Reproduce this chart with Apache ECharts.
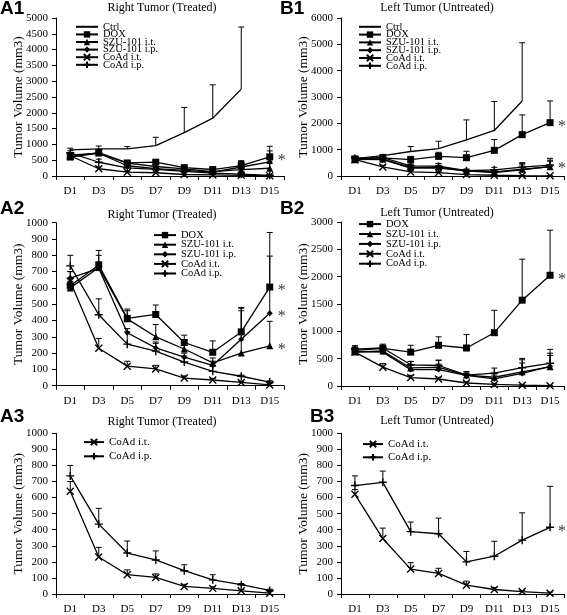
<!DOCTYPE html>
<html><head><meta charset="utf-8">
<script src="https://cdn.jsdelivr.net/npm/echarts@6/dist/echarts.min.js"></script>
<style>html,body{margin:0;padding:0;background:#fff}#c{width:567px;height:615px}</style>
</head><body><div id="c"></div>
<script>
// ---------- data ----------
const days = ['D1','D3','D5','D7','D9','D11','D13','D15'];
// Right tumor (treated): means and upper error-bar ends
const ctrlR     = [825, 856, 856, 960, 1375, 1830, 2750, null];
const ctrlRErr  = [880, 950, 930, 1225, 2170, 2885, 4715, null];
const doxR      = [613, 740, 413, 437, 265, 205, 330, 605];
const doxRErr   = [660, 830, 470, 495, 310, 275, 480, 940];
const szuItR    = [600, 725, 410, 300, 225, 140, 200, 245];
const szuItRErr = [640, 800, 460, 375, 260, 170, 460, 395];
const szuIpR    = [660, 720, 325, 232, 175, 125, 285, 445];
const szuIpRErr = [700, 760, 350, 260, 200, 150, 475, 795];
const coAdItR   = [640, 230, 120, 103, 47, 35, 20, 5];
const coAdItRErr= [700, 290, 150, 125, 60, 45, 28, 15];
const coAdIpR   = [735, 435, 255, 212, 145, 88, 58, 22];
const coAdIpRErr= [800, 533, 330, 268, 182, 120, 65, 30];
// Left tumor (untreated)
const ctrlL     = [660, 770, 930, 1040, 1370, 1730, 2850, null];
const ctrlLErr  = [720, 820, 1120, 1320, 2130, 2830, 5060, null];
const doxL      = [650, 690, 620, 745, 695, 975, 1570, 2025];
const doxLErr   = [730, 740, 745, 900, 940, 1385, 2320, 2850];
const szuItL    = [620, 640, 330, 340, 200, 160, 260, 350];
const szuItLErr = [660, 680, 450, 470, 240, 230, 480, 600];
const szuIpL    = [630, 620, 300, 300, 195, 130, 230, 360];
const szuIpLErr = [670, 660, 380, 400, 230, 200, 420, 560];
const coAdItL   = [620, 345, 155, 128, 55, 28, 15, 5];
const coAdItLErr= [650, 410, 195, 160, 80, 40, 22, 12];
const coAdIpL   = [675, 695, 388, 375, 200, 235, 335, 415];
const coAdIpLErr= [735, 765, 448, 472, 265, 328, 505, 670];

const yMax      = [5000, 6000, 1000, 3000, 1000, 1000];
const yInterval = [500, 1000, 100, 500, 100, 100];
const titles    = ['Right Tumor (Treated)','Left Tumor (Untreated)','Right Tumor (Treated)','Left Tumor (Untreated)','Right Tumor (Treated)','Left Tumor (Untreated)'];
const panelLabels = ['A1','B1','A2','B2','A3','B3'];
const stars = [['DOX'], ['DOX','CoAd i.p.'], ['DOX','SZU-101 i.p.','SZU-101 i.t.'], ['DOX'], [], ['CoAd i.p.']];

const R = {'Ctrl':[ctrlR,ctrlRErr],'DOX':[doxR,doxRErr],'SZU-101 i.t.':[szuItR,szuItRErr],'SZU-101 i.p.':[szuIpR,szuIpRErr],'CoAd i.t.':[coAdItR,coAdItRErr],'CoAd i.p.':[coAdIpR,coAdIpRErr]};
const L = {'Ctrl':[ctrlL,ctrlLErr],'DOX':[doxL,doxLErr],'SZU-101 i.t.':[szuItL,szuItLErr],'SZU-101 i.p.':[szuIpL,szuIpLErr],'CoAd i.t.':[coAdItL,coAdItLErr],'CoAd i.p.':[coAdIpL,coAdIpLErr]};
const allNames = ['Ctrl','DOX','SZU-101 i.t.','SZU-101 i.p.','CoAd i.t.','CoAd i.p.'];
const panelNames = [allNames, allNames, allNames.slice(1), allNames.slice(1), allNames.slice(4), allNames.slice(4)];
const panelData = [R, L, R, L, R, L];

// ---------- layout & style ----------
const SERIF = 'Liberation Serif';
const grids = [
  {left:56, top:18, width:228, height:158},
  {left:341, top:18, width:223, height:158},
  {left:56, top:222.7, width:228, height:163},
  {left:341, top:222, width:223, height:164},
  {left:56, top:433.3, width:228, height:164},
  {left:341, top:433.3, width:223, height:164}
];
const legendPos = [
  {left:75, top:21.3, gap:-3.4, fs:10.5, w:22},
  {left:358, top:21.3, gap:-3.2, fs:10.5, w:22},
  {left:153, top:229.6, gap:-1.4, fs:10.5, w:22},
  {left:358, top:218.6, gap:-1.1, fs:10.5, w:22},
  {left:83, top:436.6, gap:3.2, fs:11, w:20},
  {left:362, top:438.6, gap:2.2, fs:11, w:20}
];
const titlePos = [[162,8],[437,8],[162,215],[437,213],[162,422],[437,421]];
const labelPos = [[0,8.5],[280,8.5],[0,208.5],[280,208.5],[0,417],[310,417]];
const sym = {
  'Ctrl': {symbol:'none', size:0, stroke:false},
  'DOX': {symbol:'rect', size:7, stroke:false},
  'SZU-101 i.t.': {symbol:'triangle', size:7, stroke:false},
  'SZU-101 i.p.': {symbol:'diamond', size:6, stroke:false},
  'CoAd i.t.': {symbol:'path://M0,0L10,10M10,0L0,10', size:7, stroke:true},
  'CoAd i.p.': {symbol:'path://M5,0L5,10M0,5L10,5', size:8, stroke:true}
};

function renderErr(params, api){
  const x = api.value(0), y = api.value(1), t = api.value(2);
  const p = api.coord([x, y]), q = api.coord([x, t]);
  const c = 3;
  const st = {stroke:'#000', lineWidth:1};
  return {type:'group', children:[
    {type:'line', shape:{x1:p[0], y1:p[1], x2:q[0], y2:q[1]}, style:st},
    {type:'line', shape:{x1:q[0]-c, y1:q[1], x2:q[0]+c, y2:q[1]}, style:st}
  ]};
}

const option = {animation:false, grid:[], xAxis:[], yAxis:[], series:[], legend:[], graphic:[]};
grids.forEach((g, k) => {
  option.grid.push(Object.assign({containLabel:false}, g));
  option.xAxis.push({type:'category', gridIndex:k, data:days, boundaryGap:true,
    axisLine:{lineStyle:{color:'#000', width:1}},
    axisTick:{show:true, length:4, lineStyle:{color:'#000'}},
    axisLabel:{color:'#000', fontFamily:SERIF, fontSize:11, margin:10, interval:0},
    splitLine:{show:false}});
  option.yAxis.push({type:'value', gridIndex:k, min:0, max:yMax[k], interval:yInterval[k],
    name:'Tumor Volume (mm3)', nameLocation:'middle', nameGap:31, nameMoveOverlap:false,
    nameTextStyle:{color:'#000', fontFamily:SERIF, fontSize:13.5},
    axisLine:{show:true, lineStyle:{color:'#000', width:1}},
    axisTick:{show:true, length:4, lineStyle:{color:'#000'}},
    axisLabel:{color:'#000', fontFamily:SERIF, fontSize:11, margin:8, formatter: v => String(v)},
    splitLine:{show:false}});
  const D = panelData[k];
  panelNames[k].forEach(nm => {
    const [vals, errs] = D[nm];
    const s = sym[nm];
    option.series.push({type:'line', name:nm, xAxisIndex:k, yAxisIndex:k, data:vals,
      symbol:s.symbol, symbolSize:s.size, showSymbol:s.symbol!=='none', connectNulls:false,
      lineStyle:{color:'#000', width:1.3},
      itemStyle:{color: s.stroke ? 'rgba(0,0,0,0)' : '#000', borderColor:'#000', borderWidth: s.stroke ? 1.4 : 0},
      emphasis:{disabled:true}, z:3});
    option.series.push({type:'custom', name:nm+' err', xAxisIndex:k, yAxisIndex:k,
      data: vals.map((v,i) => v==null ? null : [i, v, errs[i]]).filter(Boolean),
      encode:{x:0, y:[1,2]}, renderItem:renderErr, z:2, silent:true});
  });
  stars[k].forEach(nm => {
    const vals = D[nm][0];
    option.series.push({type:'scatter', xAxisIndex:k, yAxisIndex:k, symbolSize:0,
      data:[[days.length-1, vals[vals.length-1]]], silent:true,
      label:{show:true, formatter:'*', position:'right', distance:8, offset:[0,4],
        color:'#000', fontFamily:SERIF, fontSize:16}});
  });
  const lp = legendPos[k];
  option.legend.push({orient:'vertical', left:lp.left, top:lp.top, padding:0, itemWidth:lp.w, itemHeight:8,
    itemGap:lp.gap, selectedMode:false,
    data: panelNames[k].map(nm => nm === 'Ctrl' ? {name:nm, itemStyle:{opacity:0}} : nm),
    textStyle:{color:'#000', fontFamily:SERIF, fontSize:lp.fs}});
  option.graphic.push({type:'text', x:titlePos[k][0], y:titlePos[k][1],
    style:{text:titles[k], fill:'#000', font:'12px "Liberation Serif"', textAlign:'center', textVerticalAlign:'middle'}});
  option.graphic.push({type:'text', x:labelPos[k][0], y:labelPos[k][1],
    style:{text:panelLabels[k], fill:'#000', font:'bold 19px "Liberation Sans"', textAlign:'left', textVerticalAlign:'middle'}});
});

const chart = echarts.init(document.getElementById('c'), null, {renderer:'canvas'});
chart.setOption(option);
</script></body></html>
